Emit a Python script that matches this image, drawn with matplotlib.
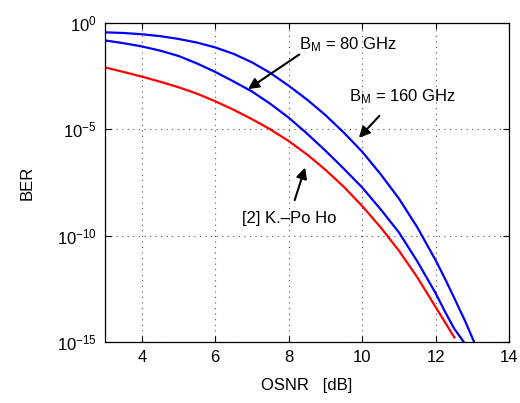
import numpy as np
import matplotlib.pyplot as plt

plt.rcParams['font.family'] = ['Liberation Sans', 'DejaVu Sans']
plt.rcParams['mathtext.fontset'] = 'custom'
plt.rcParams['mathtext.rm'] = 'Liberation Sans'
plt.rcParams['mathtext.it'] = 'Liberation Sans:italic'

# curves, as log10(BER)
osnr_160 = [3, 3.5, 4, 4.5, 5, 5.5, 6, 6.5, 7, 7.5, 8, 8.5, 9, 9.5, 10, 10.5, 11, 11.5, 12, 12.25, 12.5, 12.8, 13.05]
logber_160 = [-0.44, -0.47, -0.53, -0.62, -0.75, -0.92, -1.15, -1.45, -1.85, -2.35, -2.95, -3.6, -4.33,
              -5.15, -6.05, -7.1, -8.25, -9.6, -11.15, -12.0, -12.9, -14.0, -15.0]

osnr_80 = [3, 3.5, 4, 4.5, 5, 5.5, 6, 6.5, 7, 7.5, 8, 8.5, 9, 9.5, 10, 10.5, 11, 11.5, 12, 12.25, 12.5, 12.77]
logber_80 = [-0.82, -0.95, -1.1, -1.3, -1.55, -1.9, -2.3, -2.75, -3.22, -3.8, -4.45, -5.2, -6.0,
             -6.85, -7.73, -8.75, -9.84, -11.2, -12.7, -13.55, -14.35, -15.0]

osnr_ho = [3, 3.5, 4, 4.5, 5, 5.5, 6, 6.5, 7, 7.5, 8, 8.5, 9, 9.5, 10, 10.5, 11, 11.5, 12, 12.25, 12.51]
logber_ho = [-2.09, -2.3, -2.52, -2.76, -3.02, -3.32, -3.68, -4.08, -4.52, -5.0, -5.55, -6.18, -6.9,
             -7.7, -8.6, -9.6, -10.7, -11.95, -13.35, -14.05, -14.78]

xticks = [4, 6, 8, 10, 12, 14]
yticks = [1e-15, 1e-10, 1e-5, 1e0]

fig = plt.figure(figsize=(5.2, 4.03), dpi=100)
ax = fig.add_axes([0.202, 0.151, 0.777, 0.792])

ax.semilogy(osnr_160, 10.0 ** np.array(logber_160), color='#0000ff', lw=1.6)
ax.semilogy(osnr_80, 10.0 ** np.array(logber_80), color='#0000ff', lw=1.6)
ax.semilogy(osnr_ho, 10.0 ** np.array(logber_ho), color='#ff0000', lw=1.6)

ax.set_xlim(3, 14)
ax.set_ylim(1e-15, 1)
ax.set_xticks(xticks)
ax.set_yticks(yticks)
ax.minorticks_off()
ax.tick_params(direction='in', top=True, right=True, labelsize=12, length=4, pad=6)
ax.grid(True, which='major', ls=(0, (1, 4)), color='#555555', lw=0.8)
for s in ax.spines.values():
    s.set_linewidth(0.9)

ax.set_xlabel('OSNR   [dB]', fontsize=12, labelpad=9)
ax.set_ylabel('BER', fontsize=12, labelpad=16)

arrow = dict(arrowstyle='-|>', color='black', lw=1.5, mutation_scale=16)
ax.annotate('', xy=(6.83, 10 ** -3.18), xytext=(8.35, 10 ** -1.41), arrowprops=arrow)
ax.text(8.27, 10 ** -1.22, r'B$_\mathrm{M}$ = 80 GHz', fontsize=12, va='baseline')

ax.annotate('', xy=(9.86, 10 ** -5.49), xytext=(10.52, 10 ** -4.27), arrowprops=arrow)
ax.text(9.64, 10 ** -3.66, r'B$_\mathrm{M}$ = 160 GHz', fontsize=12, va='baseline')

ax.annotate('', xy=(8.47, 10 ** -6.67), xytext=(8.14, 10 ** -8.45), arrowprops=arrow)
ax.text(6.73, 10 ** -9.39, '[2] K.\u2013Po Ho', fontsize=12, va='baseline')

fig.savefig('out.png', dpi=100)
